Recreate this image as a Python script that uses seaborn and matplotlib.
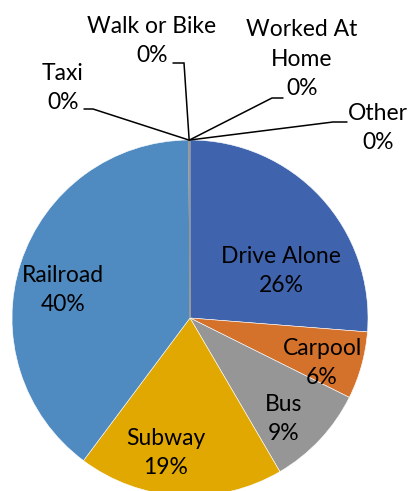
import matplotlib
matplotlib.use("Agg")
import matplotlib.pyplot as plt
import numpy as np
import seaborn as sns

# données (part des modes de transport)
modes = ["Drive Alone", "Carpool", "Bus", "Subway", "Railroad",
         "Taxi", "Walk or Bike", "Worked At Home", "Other"]
shares = [26.2, 6.1, 9.2, 18.6, 39.6, 0.03, 0.03, 0.03, 0.03]
colors = ["#3F64AD", "#D4712B", "#969696", "#E0A800", "#4F8BC1",
          "#2B4A80", "#A0522D", "#707070", "#B08600"]

sns.set_theme(style="white")
plt.rcParams["font.family"] = ["Lato", "DejaVu Sans"]

W, H = 408, 491
fig = plt.figure(figsize=(W / 100, H / 100), dpi=100)
ax = fig.add_axes([0, 0, 1, 1])

# coordonnées en pixels (y vers le haut)
cx, cy, r = 190, H - 318, 178
wedges, _ = ax.pie(shares, colors=colors, startangle=90, counterclock=False,
                   center=(cx, cy), radius=r, frame=True,
                   wedgeprops=dict(edgecolor="white", linewidth=0.4))
for w in wedges[5:]:
    w.set_edgecolor("#999999")

total = sum(shares)
pcts = [f"{round(v / total * 100):.0f}%" for v in shares]

FS = 16.5
LS = 1.5

# étiquettes à l'intérieur des grosses parts (position en pixels)
inside = {
    "Drive Alone": (281, 271),
    "Carpool": (322, 363),
    "Bus": (284, 419),
    "Subway": (166, 453),
    "Railroad": (63, 290),
}
for i, name in enumerate(modes[:5]):
    x, y = inside[name]
    ax.text(x, H - y, f"{name}\n{pcts[i]}", ha="center", va="center",
            fontsize=FS, color="black", linespacing=LS)

# petites parts : étiquettes à l'extérieur avec traits de rappel
outside = {
    "Taxi": dict(text=(63, 88), elbow=(93, 109), end=(84, 109)),
    "Walk or Bike": dict(text=(152, 41), elbow=(184, 63), end=(173, 63)),
    "Worked At Home": dict(text=(302, 59), elbow=(272, 98), end=(283, 98)),
    "Other": dict(text=(378, 128), elbow=(333, 122), end=(347, 122)),
}
for i, name in enumerate(modes[5:], start=5):
    w = wedges[i]
    ang = np.deg2rad((w.theta1 + w.theta2) / 2)
    x0, y0 = cx + r * np.cos(ang), cy + r * np.sin(ang)
    pos = outside[name]
    ex, ey = pos["elbow"]
    fx, fy = pos["end"]
    ax.plot([x0, ex, fx], [y0, H - ey, H - fy], color="black", lw=1.1,
            solid_joinstyle="miter")
    label = "Worked At\nHome" if name == "Worked At Home" else name
    tx, ty = pos["text"]
    ax.text(tx, H - ty, f"{label}\n{pcts[i]}", ha="center", va="center",
            fontsize=FS, color="black", linespacing=LS)

ax.set_xlim(0, W)
ax.set_ylim(0, H)
ax.set_aspect("equal")
ax.axis("off")

fig.savefig("out.png", dpi=100)
